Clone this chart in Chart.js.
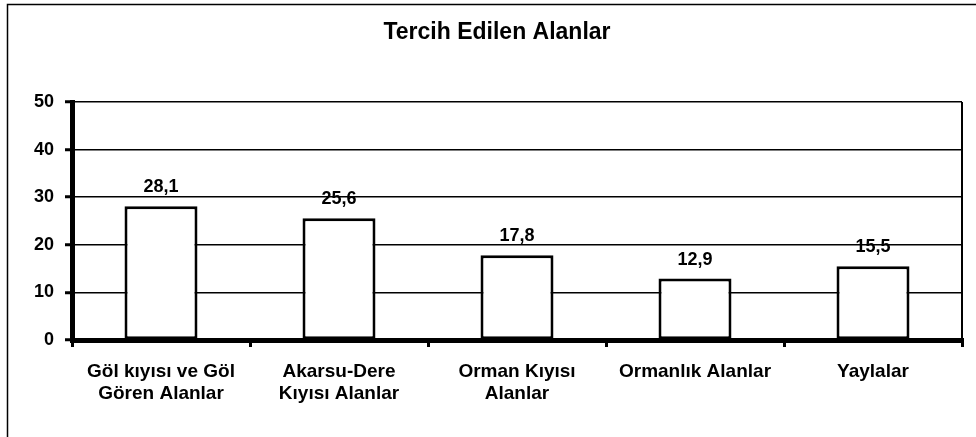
<!DOCTYPE html>
<html>
<head>
<meta charset="utf-8">
<script src="https://cdn.jsdelivr.net/npm/chart.js@4/dist/chart.umd.min.js"></script>
<style>
  html, body { margin: 0; padding: 0; background: #fff; }
  #wrap { width: 976px; height: 437px; }
</style>
</head>
<body>
<div id="wrap"><canvas id="barChart" width="976" height="437"></canvas></div>
<script>
const title = 'Tercih Edilen Alanlar';
const categories = [
    ['Göl kıyısı ve Göl', 'Gören Alanlar'],
    ['Akarsu-Dere', 'Kıyısı Alanlar'],
    ['Orman Kıyısı', 'Alanlar'],
    ['Ormanlık Alanlar'],
    ['Yaylalar']
];
const values = [28.1, 25.6, 17.8, 12.9, 15.5];
const yTicks = [0, 10, 20, 30, 40, 50];

const fontFamily = '"Liberation Sans", Arial, sans-serif';

// white page with the scanned outer frame
const framePlugin = {
    id: 'frame',
    beforeDraw(chart) {
        const ctx = chart.ctx;
        ctx.save();
        ctx.fillStyle = '#fff';
        ctx.fillRect(0, 0, chart.width, chart.height);
        ctx.strokeStyle = '#000';
        ctx.lineWidth = 1.5;
        ctx.strokeRect(7.5, 4.5, chart.width + 40, chart.height + 40);
        ctx.restore();
    },
    afterDraw(chart) {
        // right edge of the plot area
        const a = chart.chartArea;
        const ctx = chart.ctx;
        ctx.save();
        ctx.strokeStyle = '#000';
        ctx.lineWidth = 2;
        ctx.beginPath();
        ctx.moveTo(a.right, a.top);
        ctx.lineTo(a.right, a.bottom);
        ctx.stroke();
        ctx.restore();
    }
};

// value labels above the bars, Turkish decimal comma
const valueLabels = {
    id: 'valueLabels',
    afterDatasetsDraw(chart) {
        const ctx = chart.ctx;
        const meta = chart.getDatasetMeta(0);
        ctx.save();
        ctx.font = 'bold 18px ' + fontFamily;
        ctx.fillStyle = '#000';
        ctx.textAlign = 'center';
        ctx.textBaseline = 'alphabetic';
        meta.data.forEach((bar, i) => {
            const txt = values[i].toFixed(1).replace('.', ',');
            ctx.fillText(txt, bar.x, bar.y - 14);
        });
        ctx.restore();
    }
};

new Chart(document.getElementById('barChart').getContext('2d'), {
    type: 'bar',
    data: {
        labels: categories,
        datasets: [{
            data: values,
            backgroundColor: '#fff',
            borderColor: '#000',
            borderWidth: 3,
            borderSkipped: false,
            categoryPercentage: 1,
            barPercentage: 0.41
        }]
    },
    options: {
        responsive: false,
        animation: false,
        layout: { padding: { left: 32, right: 14, top: 0, bottom: 0 } },
        plugins: {
            legend: { display: false },
            tooltip: { enabled: false },
            title: {
                display: true,
                text: title,
                color: '#000',
                font: { family: fontFamily, size: 23, weight: 'bold', lineHeight: 1.2 },
                padding: { top: 19, bottom: 55.4 }
            }
        },
        scales: {
            x: {
                afterFit(scale) { scale.height = 97; },
                border: { display: true, color: '#000', width: 5 },
                grid: {
                    offset: true,
                    drawOnChartArea: false,
                    drawTicks: true,
                    tickLength: 7,
                    color: '#000',
                    lineWidth: 3
                },
                ticks: {
                    color: '#000',
                    padding: 13,
                    maxRotation: 0,
                    autoSkip: false,
                    font: { family: fontFamily, size: 19, weight: 'bold', lineHeight: 1.2 }
                }
            },
            y: {
                min: 0,
                max: 50,
                afterFit(scale) { scale.width = 40; },
                afterBuildTicks(scale) { scale.ticks = yTicks.map(v => ({ value: v })); },
                border: { display: true, color: '#000', width: 5 },
                grid: {
                    color: '#000',
                    lineWidth: 1.5,
                    drawTicks: true,
                    tickLength: 7,
                    tickColor: '#000',
                    tickWidth: 3
                },
                ticks: {
                    color: '#000',
                    padding: 11,
                    font: { family: fontFamily, size: 18, weight: 'bold' }
                }
            }
        }
    },
    plugins: [framePlugin, valueLabels]
});
</script>
</body>
</html>
